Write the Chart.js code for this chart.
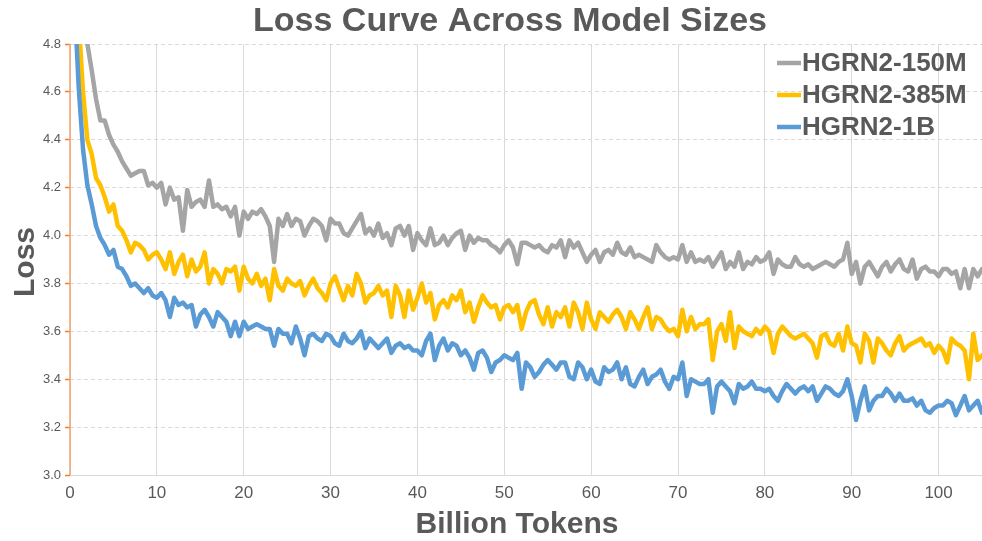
<!DOCTYPE html>
<html><head><meta charset="utf-8">
<script src="https://cdn.jsdelivr.net/npm/chart.js@4.4.1/dist/chart.umd.min.js"></script>
<style>html,body{margin:0;padding:0;background:#fff}#wrap{width:982px;height:541px;position:relative}</style>
</head><body><div id="wrap"><canvas id="c" width="982" height="541"></canvas></div>
<script>
const chartTitle = 'Loss Curve Across Model Sizes';
const xTitle = 'Billion Tokens';
const yTitle = 'Loss';
const seriesNames = ['HGRN2-150M', 'HGRN2-385M', 'HGRN2-1B'];
const seriesColors = ['#A5A5A5', '#FFC000', '#5B9BD5'];

const tokens = [
0,0.5,1,1.5,2,2.5,3,3.5,4,4.5,
5,5.5,6,6.5,7,7.5,8,8.5,9,9.5,
10,10.5,11,11.5,12,12.5,13,13.5,14,14.5,
15,15.5,16,16.5,17,17.5,18,18.5,19,19.5,
20,20.5,21,21.5,22,22.5,23,23.5,24,24.5,
25,25.5,26,26.5,27,27.5,28,28.5,29,29.5,
30,30.5,31,31.5,32,32.5,33,33.5,34,34.5,
35,35.5,36,36.5,37,37.5,38,38.5,39,39.5,
40,40.5,41,41.5,42,42.5,43,43.5,44,44.5,
45,45.5,46,46.5,47,47.5,48,48.5,49,49.5,
50,50.5,51,51.5,52,52.5,53,53.5,54,54.5,
55,55.5,56,56.5,57,57.5,58,58.5,59,59.5,
60,60.5,61,61.5,62,62.5,63,63.5,64,64.5,
65,65.5,66,66.5,67,67.5,68,68.5,69,69.5,
70,70.5,71,71.5,72,72.5,73,73.5,74,74.5,
75,75.5,76,76.5,77,77.5,78,78.5,79,79.5,
80,80.5,81,81.5,82,82.5,83,83.5,84,84.5,
85,85.5,86,86.5,87,87.5,88,88.5,89,89.5,
90,90.5,91,91.5,92,92.5,93,93.5,94,94.5,
95,95.5,96,96.5,97,97.5,98,98.5,99,99.5,
100,100.5,101,101.5,102,102.5,103,103.5,104,104.5,
105];

const loss150M = [
6.6,5.9,5.4,5.05,4.80,4.69,4.57,4.48,4.48,4.42,
4.38,4.35,4.31,4.28,4.25,4.26,4.27,4.27,4.21,4.22,
4.20,4.22,4.13,4.20,4.15,4.16,4.02,4.19,4.12,4.14,
4.15,4.12,4.23,4.12,4.13,4.11,4.12,4.08,4.12,4.00,
4.10,4.07,4.10,4.09,4.11,4.08,4.04,3.89,4.07,4.04,
4.09,4.04,4.07,4.06,4.00,4.04,4.07,4.06,4.04,3.98,
4.07,4.05,4.05,4.01,4.00,4.03,4.06,4.09,4.01,4.03,
4.00,4.05,3.99,4.01,3.96,4.03,4.04,4.00,4.04,3.94,
4.01,3.98,3.96,4.03,3.96,3.97,4.00,3.96,3.99,4.01,
4.02,3.94,4.00,3.97,3.99,3.98,3.98,3.96,3.95,3.93,
3.96,3.98,3.95,3.88,3.97,3.97,3.96,3.95,3.96,3.94,
3.93,3.96,3.95,3.98,3.91,3.98,3.95,3.97,3.93,3.89,
3.92,3.94,3.89,3.93,3.94,3.92,3.97,3.93,3.92,3.95,
3.91,3.92,3.91,3.90,3.89,3.96,3.93,3.91,3.90,3.91,
3.90,3.96,3.89,3.93,3.89,3.90,3.89,3.91,3.87,3.90,
3.93,3.86,3.89,3.87,3.93,3.86,3.89,3.88,3.91,3.89,
3.90,3.93,3.84,3.90,3.88,3.87,3.87,3.91,3.88,3.87,
3.88,3.86,3.87,3.88,3.89,3.88,3.87,3.89,3.90,3.97,
3.84,3.89,3.80,3.87,3.89,3.86,3.83,3.87,3.89,3.85,
3.88,3.90,3.86,3.85,3.90,3.82,3.86,3.87,3.85,3.85,
3.83,3.86,3.86,3.84,3.85,3.78,3.86,3.78,3.86,3.83,
3.86];

const loss385M = [
6.0,5.3,4.9,4.6,4.40,4.34,4.24,4.21,4.16,4.10,
4.13,4.04,4.02,3.98,3.93,3.97,3.96,3.94,3.90,3.92,
3.93,3.90,3.86,3.93,3.84,3.89,3.92,3.83,3.90,3.85,
3.87,3.93,3.80,3.86,3.84,3.80,3.86,3.85,3.87,3.77,
3.87,3.82,3.80,3.84,3.79,3.82,3.73,3.86,3.79,3.77,
3.82,3.80,3.79,3.81,3.75,3.79,3.82,3.78,3.76,3.73,
3.80,3.83,3.78,3.73,3.79,3.75,3.84,3.80,3.72,3.75,
3.76,3.79,3.75,3.77,3.66,3.79,3.75,3.66,3.77,3.69,
3.74,3.80,3.72,3.76,3.65,3.71,3.73,3.70,3.75,3.73,
3.77,3.68,3.72,3.64,3.70,3.75,3.72,3.70,3.71,3.65,
3.70,3.71,3.68,3.71,3.61,3.68,3.72,3.73,3.67,3.63,
3.70,3.62,3.68,3.66,3.70,3.62,3.72,3.68,3.61,3.72,
3.65,3.61,3.68,3.66,3.64,3.67,3.69,3.66,3.61,3.68,
3.65,3.61,3.66,3.70,3.61,3.66,3.65,3.62,3.60,3.61,
3.58,3.69,3.60,3.66,3.61,3.63,3.63,3.65,3.48,3.60,
3.63,3.56,3.68,3.53,3.62,3.60,3.59,3.58,3.61,3.59,
3.62,3.60,3.51,3.59,3.62,3.60,3.58,3.57,3.58,3.59,
3.57,3.55,3.49,3.58,3.59,3.55,3.54,3.59,3.52,3.62,
3.55,3.54,3.47,3.59,3.56,3.47,3.57,3.55,3.52,3.50,
3.55,3.58,3.52,3.54,3.55,3.56,3.57,3.54,3.55,3.51,
3.54,3.52,3.47,3.57,3.55,3.54,3.52,3.40,3.59,3.48,
3.50];

const loss1B = [
5.8,5.0,4.62,4.36,4.21,4.13,4.04,3.99,3.96,3.92,
3.94,3.87,3.86,3.83,3.79,3.80,3.78,3.76,3.78,3.75,
3.74,3.76,3.73,3.66,3.74,3.71,3.72,3.70,3.71,3.62,
3.67,3.69,3.66,3.62,3.68,3.66,3.64,3.58,3.64,3.58,
3.64,3.61,3.62,3.63,3.62,3.61,3.61,3.54,3.61,3.59,
3.59,3.55,3.62,3.57,3.50,3.58,3.59,3.57,3.56,3.59,
3.58,3.55,3.54,3.59,3.56,3.55,3.57,3.60,3.53,3.57,
3.55,3.53,3.55,3.57,3.51,3.54,3.55,3.53,3.54,3.52,
3.52,3.50,3.56,3.59,3.48,3.54,3.57,3.52,3.55,3.54,
3.50,3.52,3.49,3.44,3.51,3.52,3.49,3.43,3.47,3.48,
3.50,3.49,3.48,3.51,3.36,3.47,3.45,3.41,3.43,3.46,
3.48,3.46,3.44,3.47,3.47,3.41,3.40,3.47,3.45,3.40,
3.44,3.39,3.38,3.45,3.43,3.44,3.47,3.40,3.45,3.38,
3.37,3.41,3.44,3.38,3.41,3.42,3.44,3.39,3.36,3.41,
3.40,3.47,3.33,3.40,3.39,3.38,3.38,3.40,3.26,3.37,
3.39,3.37,3.35,3.30,3.38,3.36,3.37,3.39,3.36,3.36,
3.35,3.36,3.33,3.31,3.35,3.38,3.36,3.34,3.36,3.37,
3.35,3.37,3.31,3.34,3.37,3.36,3.34,3.33,3.35,3.40,
3.33,3.23,3.31,3.37,3.27,3.31,3.33,3.33,3.36,3.34,
3.31,3.34,3.31,3.31,3.32,3.29,3.31,3.27,3.26,3.28,
3.29,3.29,3.31,3.30,3.25,3.29,3.33,3.27,3.29,3.31,
3.26];

const seriesValues = [loss150M, loss385M, loss1B];
const FONT = '"Liberation Sans", Arial, sans-serif';
const TEXT = '#595959';

const axisLine = {
  id: 'axisLine',
  beforeDatasetsDraw(chart) {
    const ctx = chart.ctx, a = chart.chartArea;
    ctx.save();
    ctx.strokeStyle = '#F2A06A';
    ctx.lineWidth = 1.5;
    ctx.beginPath();
    ctx.moveTo(a.left, a.top);
    ctx.lineTo(a.left, a.bottom);
    ctx.stroke();
    ctx.restore();
  }
};

const overlay = {
  id: 'overlay',
  afterDraw(chart) {
    const ctx = chart.ctx;
    ctx.save();
    ctx.fillStyle = TEXT;
    ctx.textAlign = 'center';
    ctx.textBaseline = 'middle';
    ctx.font = 'bold 34px ' + FONT;
    ctx.fillText(chartTitle, 510, 22);
    ctx.font = 'bold 30px ' + FONT;
    ctx.fillText(xTitle, 517, 525);
    ctx.save();
    ctx.translate(26, 262);
    ctx.rotate(-Math.PI / 2);
    ctx.fillText(yTitle, 0, 0);
    ctx.restore();
    // legend
    ctx.textAlign = 'left';
    ctx.font = 'bold 26px ' + FONT;
    seriesNames.forEach((name, i) => {
      const y = 63 + 32 * i;
      ctx.strokeStyle = seriesColors[i];
      ctx.lineWidth = 4.5;
      ctx.lineCap = 'butt';
      ctx.beginPath();
      ctx.moveTo(777, y);
      ctx.lineTo(801, y);
      ctx.stroke();
      ctx.fillStyle = TEXT;
      ctx.fillText(name, 802, y + 1);
    });
    ctx.restore();
  }
};

const datasets = seriesValues.map((vals, i) => ({
  label: seriesNames[i],
  data: tokens.map((t, j) => ({ x: t, y: vals[j] })),
  borderColor: seriesColors[i],
  backgroundColor: seriesColors[i],
  borderWidth: 4.5,
  pointRadius: 0,
  tension: 0,
  borderJoinStyle: 'round',
  borderCapStyle: 'round',
  fill: false,
  order: 2 - i
}));

new Chart(document.getElementById('c'), {
  type: 'line',
  data: { datasets },
  options: {
    responsive: false,
    devicePixelRatio: 1,
    animation: false,
    layout: { padding: { top: 44, right: 0, left: 0, bottom: 0 } },
    plugins: { legend: { display: false }, title: { display: false }, tooltip: { enabled: false } },
    scales: {
      x: {
        type: 'linear',
        min: 0, max: 105,
        afterFit: s => { s.height = 66; },
        ticks: { stepSize: 10, includeBounds: false, color: TEXT, font: { family: FONT, size: 17 }, padding: 8, maxRotation: 0 },
        grid: { color: '#D9D9D9', lineWidth: 1, drawTicks: false },
        border: { color: '#D9D9D9', width: 1 }
      },
      y: {
        min: 3.0, max: 4.8,
        afterFit: s => { s.width = 70; },
        ticks: { stepSize: 0.2, color: TEXT, font: { family: FONT, size: 13 }, padding: 4, callback: v => Number(v).toFixed(1) },
        grid: { color: '#D9D9D9', lineWidth: 1, tickColor: '#ED7D31', tickLength: 5, tickWidth: 1.5 },
        border: { display: false, dash: [4, 3] }
      }
    }
  },
  plugins: [axisLine, overlay]
});
</script>
</body></html>
